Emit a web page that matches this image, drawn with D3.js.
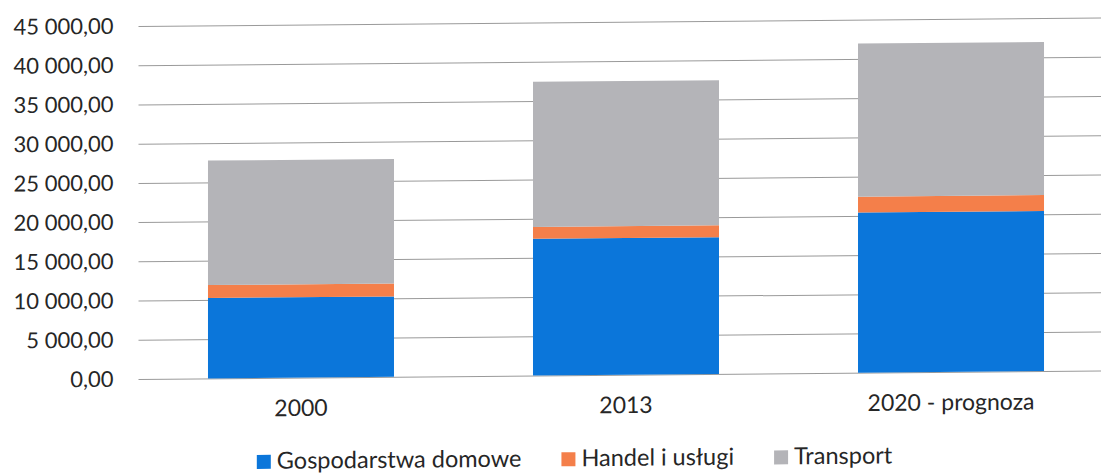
<!DOCTYPE html>
<html>
<head>
<meta charset="utf-8">
<script src="https://cdn.jsdelivr.net/npm/d3@7"></script>
<style>
  body { margin: 0; background: #ffffff; }
  text { font-family: Lato, "Open Sans", sans-serif; fill: #262626; }
</style>
</head>
<body>
<svg id="chart" width="1101" height="475"></svg>
<script>
// Energy use by sector (stacked), values per year
const categories = ["2000", "2013", "2020 - prognoza"];
const seriesNames = ["Gospodarstwa domowe", "Handel i usługi", "Transport"];
const gospodarstwaDomowe = [10250, 17430, 20420];
const handelIUslugi = [1650, 1510, 2020];
const transport = [15870, 18500, 19520];
const yTicks = [0, 5000, 10000, 15000, 20000, 25000, 30000, 35000, 40000, 45000];

const colors = ["#0b76da", "#f47f4a", "#b4b4b8"];

const rows = categories.map((c, i) => ({
  category: c,
  "Gospodarstwa domowe": gospodarstwaDomowe[i],
  "Handel i usługi": handelIUslugi[i],
  "Transport": transport[i]
}));

const svg = d3.select("#chart");
const W = 1101;
const plotLeft = 138.5, plotRight = 1113.5;
const yBottom = 379, yTop = 26;

// slight page tilt of the printed chart
const root = svg.append("g")
  .attr("transform", `translate(140,0) skewY(-0.5) translate(-140,0)`);

const x = d3.scaleBand()
  .domain(categories)
  .range([plotLeft, plotRight])
  .paddingInner(0.4277)
  .paddingOuter(0.2138);

const y = d3.scaleLinear()
  .domain([0, 45000])
  .range([yBottom, yTop]);

const color = d3.scaleOrdinal().domain(seriesNames).range(colors);

const locale = d3.formatLocale({ decimal: ",", thousands: " ", grouping: [3], currency: ["", " zł"] });
const fmt = locale.format(",.2f");

// gridlines
root.append("g")
  .selectAll("line")
  .data(yTicks)
  .join("line")
  .attr("x1", plotLeft)
  .attr("x2", W + 20)
  .attr("y1", d => y(d) + 0.5)
  .attr("y2", d => y(d) + 0.5)
  .attr("stroke", "#9a9a9a")
  .attr("stroke-width", 1);

// y axis labels
const yAxis = root.append("g")
  .attr("transform", `translate(${plotLeft - 25},0)`)
  .call(d3.axisLeft(y).tickValues(yTicks).tickFormat(fmt).tickSize(0).tickPadding(0));
yAxis.select(".domain").remove();
yAxis.selectAll("text")
  .attr("font-size", 22)
  .attr("font-family", "Lato, 'Open Sans', sans-serif")
  .attr("fill", "#262626");

// stacked bars
const stack = d3.stack().keys(seriesNames);
const layers = stack(rows);

root.append("g")
  .selectAll("g")
  .data(layers)
  .join("g")
  .attr("fill", d => color(d.key))
  .selectAll("rect")
  .data(d => d)
  .join("rect")
  .attr("x", d => x(d.data.category))
  .attr("width", x.bandwidth())
  .attr("y", d => y(d[1]))
  .attr("height", d => y(d[0]) - y(d[1]));

// category labels
const xAxis = root.append("g")
  .attr("transform", `translate(0,${yBottom})`)
  .call(d3.axisBottom(x).tickSize(0).tickPadding(22));
xAxis.select(".domain").remove();
xAxis.selectAll("text")
  .attr("font-size", 23)
  .attr("font-family", "Lato, 'Open Sans', sans-serif")
  .attr("fill", "#262626");

// legend
const legend = root.append("g").attr("transform", "translate(0,470)");
const items = legend.selectAll("g")
  .data(seriesNames)
  .join("g");
items.append("rect")
  .attr("width", 14)
  .attr("height", 14)
  .attr("y", -14)
  .attr("fill", d => color(d));
items.append("text")
  .attr("x", 20)
  .attr("font-size", 23.5)
  .text(d => d);

const gap = 40;
const widths = [];
items.each(function () {
  widths.push(20 + d3.select(this).select("text").node().getComputedTextLength());
});
const total = d3.sum(widths) + gap * (widths.length - 1);
let cx = 574.5 - total / 2;
items.attr("transform", (d, i) => {
  const t = `translate(${cx},0)`;
  cx += widths[i] + gap;
  return t;
});
</script>
</body>
</html>
